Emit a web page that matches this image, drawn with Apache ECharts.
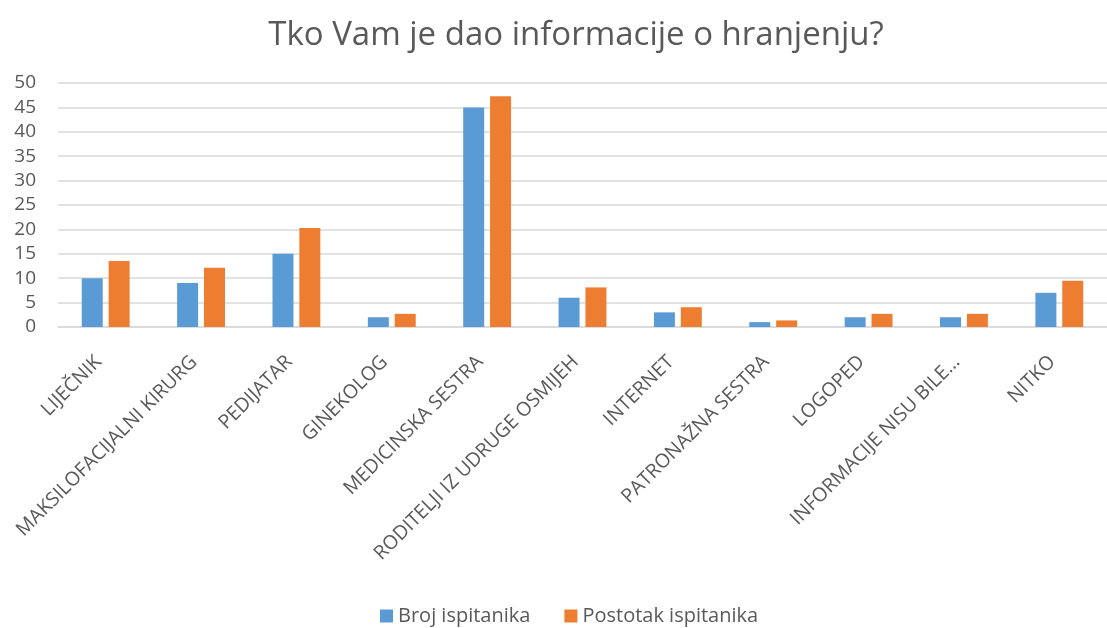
<!DOCTYPE html>
<html>
<head>
<meta charset="utf-8">
<script src="https://cdn.jsdelivr.net/npm/echarts@6/dist/echarts.min.js"></script>
<style>
  html, body { margin: 0; padding: 0; background: #fff; }
  #chart { width: 1107px; height: 628px; }
</style>
</head>
<body>
<div id="chart"></div>
<script>
var categories = ["LIJEČNIK", "MAKSILOFACIJALNI KIRURG", "PEDIJATAR", "GINEKOLOG", "MEDICINSKA SESTRA",
  "RODITELJI IZ UDRUGE OSMIJEH", "INTERNET", "PATRONAŽNA SESTRA", "LOGOPED", "INFORMACIJE NISU BILE…", "NITKO"];
var broj = [10, 9, 15, 2, 45, 6, 3, 1, 2, 2, 7];
var postotak = [13.51, 12.16, 20.27, 2.7, 47.3, 8.11, 4.05, 1.35, 2.7, 2.7, 9.46];

var font = "'Open Sans', 'Noto Sans', sans-serif";
var myChart = echarts.init(document.getElementById("chart"));
myChart.setOption({
  animation: false,
  title: {
    text: "Tko Vam je dao informacije o hranjenju?",
    left: 571,
    top: 14,
    textAlign: "center",
    textStyle: { fontFamily: font, fontSize: 33, fontWeight: "normal", color: "#595959" }
  },
  legend: {
    bottom: -3,
    left: 375,
    itemWidth: 13,
    itemHeight: 13,
    itemGap: 34,
    icon: "rect",
    textStyle: { fontFamily: font, fontSize: 20, color: "#595959" },
    data: ["Broj ispitanika", "Postotak ispitanika"]
  },
  grid: { left: 58, top: 83, width: 1058, height: 244 },
  xAxis: {
    type: "category",
    data: categories,
    axisTick: { show: false },
    axisLine: { lineStyle: { color: "#d9d9d9", width: 1.5 } },
    axisLabel: {
      interval: 0,
      rotate: 45,
      margin: 39,
      verticalAlign: "bottom",
      fontFamily: font,
      fontSize: 19.5,
      color: "#595959"
    }
  },
  yAxis: {
    type: "value",
    min: 0,
    max: 50,
    interval: 5,
    axisLabel: { fontFamily: font, fontSize: 19, color: "#595959", margin: 22 },
    splitLine: { lineStyle: { color: "#d9d9d9", width: 1.5 } }
  },
  series: [
    {
      name: "Broj ispitanika",
      type: "bar",
      data: broj,
      barWidth: 21,
      barGap: "28%",
      itemStyle: { color: "#5b9bd5" }
    },
    {
      name: "Postotak ispitanika",
      type: "bar",
      data: postotak,
      barWidth: 21,
      itemStyle: { color: "#ed7d31" }
    }
  ]
});
</script>
</body>
</html>
